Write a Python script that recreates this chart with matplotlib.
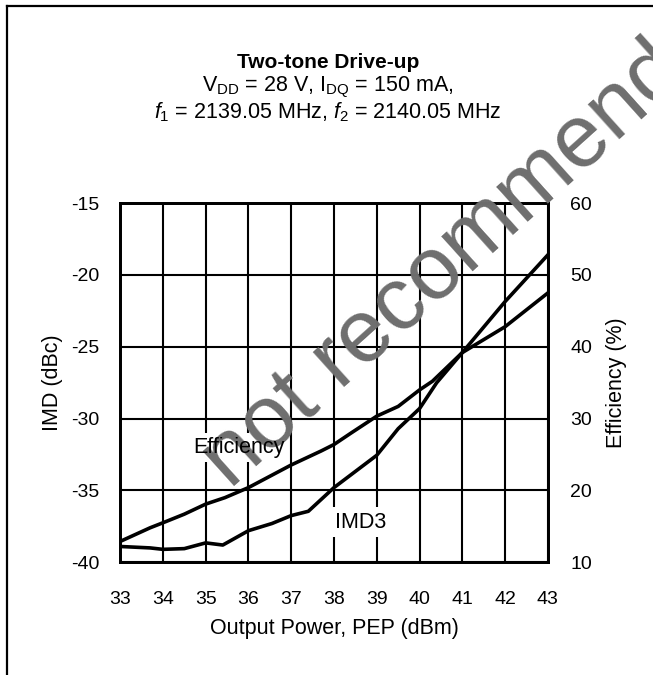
import matplotlib.pyplot as plt
from matplotlib.lines import Line2D

plt.rcParams['font.family'] = ['Liberation Sans', 'DejaVu Sans']
plt.rcParams['mathtext.fontset'] = 'custom'
plt.rcParams['mathtext.rm'] = 'Liberation Sans'
plt.rcParams['mathtext.it'] = 'Liberation Sans:italic'
plt.rcParams['axes.unicode_minus'] = False

# IMD3 curve (left axis, dBc)
pout_imd = [33.0, 33.7, 34.0, 34.5, 35.0, 35.4, 36.0, 36.55, 37.0, 37.4,
            38.0, 39.0, 39.5, 40.0, 40.4, 41.0, 42.0, 43.0]
imd3 = [-38.9, -39.0, -39.1, -39.05, -38.65, -38.8, -37.8, -37.3, -36.75, -36.45,
        -34.8, -32.55, -30.7, -29.3, -27.5, -25.4, -21.85, -18.6]

# Efficiency curve (right axis, %)
pout_eff = [33.0, 33.7, 34.0, 34.5, 35.0, 35.45, 36.0, 37.0, 37.7, 38.0,
            38.4, 39.0, 39.5, 40.0, 40.3, 41.0, 42.0, 43.0]
efficiency = [12.9, 14.8, 15.5, 16.7, 18.1, 19.0, 20.4, 23.55, 25.5, 26.4,
              28.0, 30.35, 31.7, 34.0, 35.2, 39.2, 42.8, 47.5]

x_ticks = list(range(33, 44))
imd_ticks = [-40, -35, -30, -25, -20, -15]
eff_ticks = [10, 20, 30, 40, 50, 60]

fig = plt.figure(figsize=(6.53, 6.75), dpi=100)
ax = fig.add_axes([0.184, 0.167, 0.655, 0.532])
ax2 = ax.twinx()

ax.plot(pout_imd, imd3, color='black', lw=2.6, zorder=3)
ax2.plot(pout_eff, efficiency, color='black', lw=2.6, zorder=3)

ax.set_xlim(33, 43)
ax.set_ylim(-40, -15)
ax2.set_ylim(10, 60)
ax.set_xticks(x_ticks)
ax.set_yticks(imd_ticks)
ax2.set_yticks(eff_ticks)
ax.grid(True, color='black', lw=1.5)

for a in (ax, ax2):
    a.tick_params(length=0, labelsize=14)
    for s in a.spines.values():
        s.set_linewidth(2)
ax.tick_params(axis='x', pad=21)
ax.tick_params(axis='y', pad=15)
ax2.tick_params(axis='y', pad=16)

ax.set_xlabel('Output Power, PEP (dBm)', fontsize=15.5, labelpad=7)
ax.set_ylabel('IMD (dBc)', fontsize=15.5, labelpad=6)
ax2.set_ylabel('Efficiency (%)', fontsize=15.5, labelpad=10)

# curve labels (placed in efficiency units): white patch under the watermark,
# black text above it
labels = [('Efficiency', 35.78, 26.0), ('IMD3', 38.62, 15.6)]
box = dict(facecolor='white', edgecolor='none', pad=3)
for txt, lx, ly in labels:
    ax2.text(lx, ly, txt, fontsize=15.5, ha='center', va='center', color='white',
             bbox=box, zorder=4)
    ax2.text(lx, ly, txt, fontsize=15.5, ha='center', va='center', color='black',
             zorder=7)

fig.text(0.502, 1 - 62 / 675, 'Two-tone Drive-up', fontsize=15, fontweight='bold',
         ha='center', va='center')
fig.text(0.502, 1 - 87 / 675, r'V$_{\mathrm{DD}}$ = 28 V, I$_{\mathrm{DQ}}$ = 150 mA,',
         fontsize=15.5, ha='center', va='center')
fig.text(0.502, 1 - 112 / 675, r'$f_1$ = 2139.05 MHz, $f_2$ = 2140.05 MHz',
         fontsize=15.5, ha='center', va='center')

# frame around the figure (left and top edges)
fig.add_artist(Line2D([6.5 / 653, 6.5 / 653], [0, 1 - 5.5 / 675],
                      transform=fig.transFigure, color='black', lw=1.6))
fig.add_artist(Line2D([6.5 / 653, 1], [1 - 5.5 / 675, 1 - 5.5 / 675],
                      transform=fig.transFigure, color='black', lw=1.6))

# watermark, runs off the right edge like in the source sheet
ax2.text(230 / 653, 1 - 490 / 675, 'not recommended for new design', fontsize=64,
         color='#6e6e6e', rotation=42, rotation_mode='anchor',
         ha='left', va='baseline', zorder=5, clip_on=False,
         transform=fig.transFigure)

fig.savefig('out.png', dpi=100)
